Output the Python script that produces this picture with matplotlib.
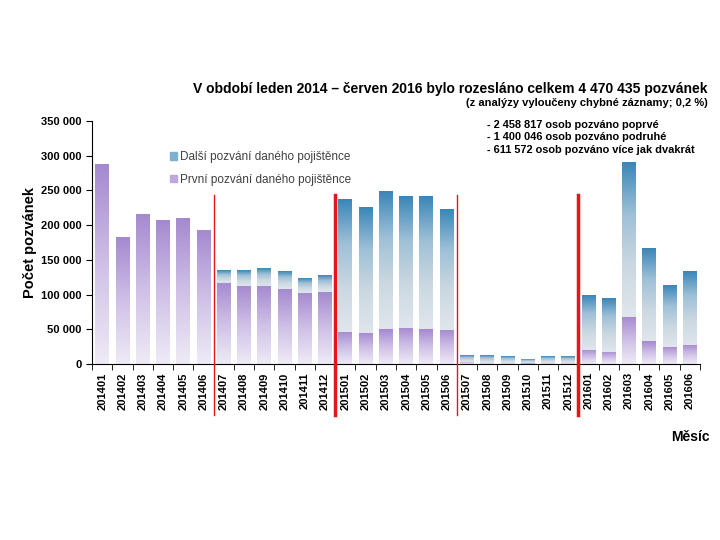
import matplotlib
matplotlib.use('Agg')
import matplotlib.pyplot as plt
import numpy as np
from matplotlib.colors import LinearSegmentedColormap
from matplotlib.patches import Patch
from matplotlib.ticker import FuncFormatter, MultipleLocator

plt.rcParams['font.family'] = ['Liberation Sans', 'DejaVu Sans']

# data
months = ['201401', '201402', '201403', '201404', '201405', '201406',
          '201407', '201408', '201409', '201410', '201411', '201412',
          '201501', '201502', '201503', '201504', '201505', '201506',
          '201507', '201508', '201509', '201510', '201511', '201512',
          '201601', '201602', '201603', '201604', '201605', '201606']
prvni = [288000, 182600, 215700, 207000, 210000, 192600,
         116700, 112400, 112400, 108000, 102300, 103700,
         46100, 44700, 50400, 51900, 50400, 49000,
         3500, 2000, 2000, 1000, 2000, 2000,
         20200, 17300, 67700, 33100, 24500, 27400]
celkem = [288000, 182600, 215700, 207000, 210000, 192600,
          135400, 135400, 136900, 132600, 123900, 126800,
          236300, 224800, 247800, 242000, 240600, 221900,
          13000, 13000, 11500, 5800, 11500, 11500,
          99400, 93700, 289600, 165700, 113800, 132600]
dalsi = [c - p for c, p in zip(celkem, prvni)]

# where the red separators go (between months) and how thick
separators = [(5.5, 1.0), (11.5, 2.5), (17.5, 1.0), (23.5, 2.5)]

notes = ['- 2 458 817 osob pozváno poprvé',
         '- 1 400 046 osob pozváno podruhé',
         '- 611 572 osob pozváno více jak dvakrát']

purple_cm = LinearSegmentedColormap.from_list('purple', ['#efebf6', '#cfc0e7', '#a589cf'])
blue_cm = LinearSegmentedColormap.from_list('blue', ['#e0e6ec', '#cbd8e1', '#9ec0d7', '#3a86b8'])
grad = np.linspace(0, 1, 256).reshape(-1, 1)

fig = plt.figure(figsize=(7.2, 5.4), dpi=100)
ax = fig.add_axes([0.128, 0.326, 0.844, 0.45])

w = 0.68
x = np.arange(len(months))
for i in x:
    if prvni[i] > 0:
        ax.imshow(grad, cmap=purple_cm, origin='lower', aspect='auto',
                  extent=[i - w / 2, i + w / 2, 0, prvni[i]], zorder=2)
    if dalsi[i] > 0:
        ax.imshow(grad, cmap=blue_cm, origin='lower', aspect='auto',
                  extent=[i - w / 2, i + w / 2, prvni[i], celkem[i]], zorder=2)

ax.set_xlim(-0.5, len(months) - 0.5)
ax.set_ylim(0, 350000)

for pos, lw in separators:
    ax.plot([pos, pos], [-0.21, 0.695], color='#e8141a', lw=lw,
            transform=ax.get_xaxis_transform(), clip_on=False, zorder=5)

ax.spines['top'].set_visible(False)
ax.spines['right'].set_visible(False)
ax.yaxis.set_major_locator(MultipleLocator(50000))
ax.yaxis.set_major_formatter(FuncFormatter(lambda v, _: f'{int(v):,}'.replace(',', ' ')))
ax.tick_params(axis='y', direction='out', length=4, labelsize=8)
for lab in ax.get_yticklabels():
    lab.set_fontweight('bold')

ax.set_xticks(x)
ax.set_xticklabels(months, rotation=90, fontsize=8, fontweight='bold')
ax.set_xticks(np.arange(-0.5, len(months)), minor=True)
ax.tick_params(axis='x', which='major', length=0, pad=6)
ax.tick_params(axis='x', which='minor', direction='out', length=4)

ax.set_ylabel('Počet pozvánek', fontsize=10.5, fontweight='bold', labelpad=3)
fig.text(0.985, 0.19, 'Měsíc', ha='right', va='center', fontsize=10, fontweight='bold')

fig.text(0.983, 0.836, 'V období leden 2014 – červen 2016 bylo rozesláno celkem 4 470 435 pozvánek',
         ha='right', va='center', fontsize=10, fontweight='bold')
fig.text(0.983, 0.809, '(z analýzy vyloučeny chybné záznamy; 0,2 %)',
         ha='right', va='center', fontsize=8, fontweight='bold')
for k, line in enumerate(notes):
    fig.text(0.677, 0.769 - k * 0.023, line, ha='left', va='center',
             fontsize=7.9, fontweight='bold')

handles = [Patch(color='#7fb0cf', label='Další pozvání daného pojištěnce'),
           Patch(color='#bca8dc', label='První pozvání daného pojištěnce')]
ax.legend(handles=handles, loc='upper left', bbox_to_anchor=(0.11, 0.92), frameon=False,
          fontsize=8.5, handlelength=0.6, handleheight=0.6, handletextpad=0.3,
          labelspacing=0.9, labelcolor='#404040')

fig.savefig('out.png', dpi=100)
